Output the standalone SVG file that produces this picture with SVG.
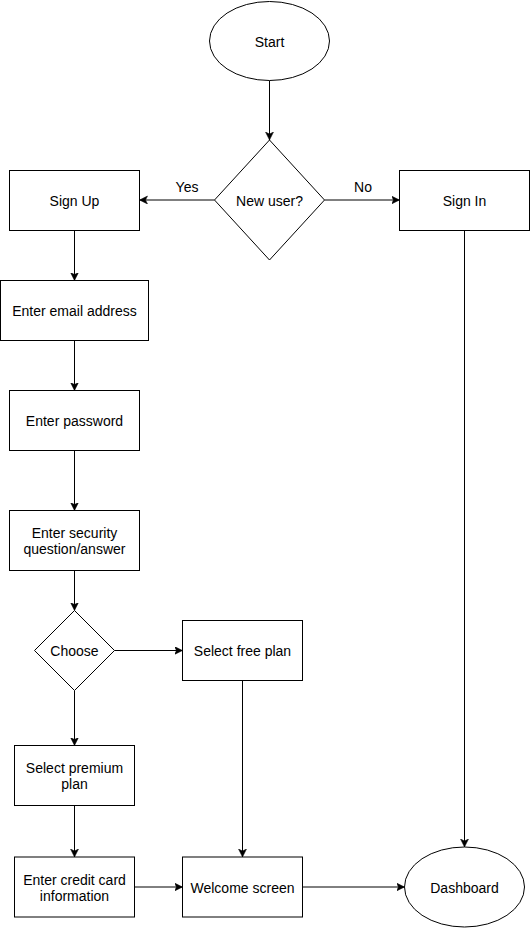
<svg xmlns="http://www.w3.org/2000/svg" width="530" height="928" viewBox="0 0 530 928">
<defs>
<style>
.n{fill:#fff;stroke:#000;stroke-width:1}
.t{font-family:"Liberation Sans",Arial,sans-serif;font-size:14px;fill:#000;text-anchor:middle;dominant-baseline:central}
.l{font-family:"Liberation Sans",Arial,sans-serif;font-size:14px;fill:#000;text-anchor:middle;dominant-baseline:central}
.c{fill:none;stroke:#000;stroke-width:1;marker-end:url(#a)}
</style>
<marker id="a" markerUnits="userSpaceOnUse" markerWidth="10" markerHeight="10" refX="8" refY="4" orient="auto">
<path d="M0,0 L8,4 L0,8 L2,4 Z" fill="#000" stroke="#000" stroke-width="0.5"/>
</marker>
</defs>
<rect width="530" height="928" fill="#fff"/>
<g id="connectors">
<path class="c" d="M269.5,80.5 V140"/>
<path class="c" d="M214.5,200 H139.5"/>
<path class="c" d="M324.5,200 H399.5"/>
<path class="c" d="M74.5,230.5 V280.5"/>
<path class="c" d="M74.5,340.5 V390.5"/>
<path class="c" d="M74.5,450.5 V510.5"/>
<path class="c" d="M74.5,570.5 V610.5"/>
<path class="c" d="M114.5,650.5 H182.5"/>
<path class="c" d="M74.5,690.5 V745.5"/>
<path class="c" d="M74.5,805.5 V857"/>
<path class="c" d="M134.5,887 H182.5"/>
<path class="c" d="M242.5,680.5 V857"/>
<path class="c" d="M302.5,887 H404.5"/>
<path class="c" d="M464.5,230.5 V847"/>
<text class="l" x="187" y="187">Yes</text>
<text class="l" x="363" y="187">No</text>
</g>
<g id="start"><ellipse class="n" cx="269.5" cy="41" rx="60" ry="39.5"/><text class="t" x="269.5" y="41.5">Start</text></g>
<g id="newuser"><path class="n" d="M269.5,140 L324.5,200 L269.5,260 L214.5,200 Z"/><text class="t" x="269.5" y="201">New user?</text></g>
<g id="signup"><rect class="n" x="9.5" y="170.5" width="130" height="60"/><text class="t" x="74.5" y="201">Sign Up</text></g>
<g id="signin"><rect class="n" x="399.5" y="170.5" width="130" height="60"/><text class="t" x="464.5" y="201">Sign In</text></g>
<g id="email"><rect class="n" x="0.5" y="280.5" width="148" height="60"/><text class="t" x="74.5" y="311">Enter email address</text></g>
<g id="password"><rect class="n" x="9.5" y="390.5" width="130" height="60"/><text class="t" x="74.5" y="421">Enter password</text></g>
<g id="security"><rect class="n" x="9.5" y="510.5" width="130" height="60"/><text class="t" x="74.5" y="533">Enter security</text><text class="t" x="74.5" y="549">question/answer</text></g>
<g id="choose"><path class="n" d="M74.5,610.5 L114.5,650.5 L74.5,690.5 L34.5,650.5 Z"/><text class="t" x="74.5" y="651">Choose</text></g>
<g id="free"><rect class="n" x="182.5" y="620.5" width="120" height="60"/><text class="t" x="242.5" y="651">Select free plan</text></g>
<g id="premium"><rect class="n" x="14.5" y="745.5" width="120" height="60"/><text class="t" x="74.5" y="768">Select premium</text><text class="t" x="74.5" y="784">plan</text></g>
<g id="credit"><rect class="n" x="14.5" y="857" width="120" height="60"/><text class="t" x="74.5" y="879.5">Enter credit card</text><text class="t" x="74.5" y="895.5">information</text></g>
<g id="welcome"><rect class="n" x="182.5" y="857" width="120" height="60"/><text class="t" x="242.5" y="887.5">Welcome screen</text></g>
<g id="dashboard"><ellipse class="n" cx="464.5" cy="887" rx="60" ry="40"/><text class="t" x="464.5" y="887.5">Dashboard</text></g>
</svg>
